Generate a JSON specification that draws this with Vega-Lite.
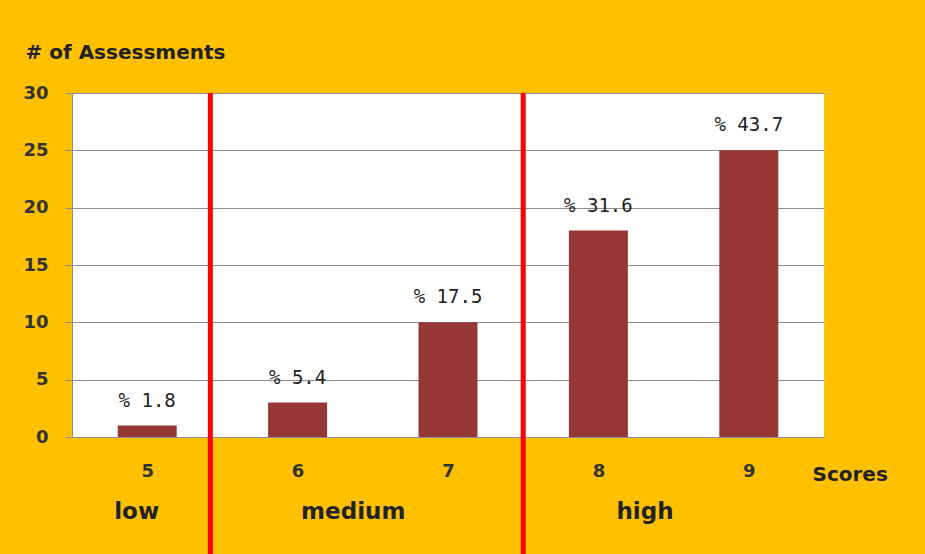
{
  "$schema": "https://vega.github.io/schema/vega-lite/v6.json",
  "width": 752,
  "height": 344,
  "autosize": {"type": "none"},
  "padding": {"left": 72, "top": 93, "right": 101, "bottom": 117},
  "background": "#FFC000",
  "config": {
    "view": {"fill": "white", "stroke": null},
    "font": "DejaVu Sans"
  },
  "datasets": {
    "scores": [
      {"score": 5, "count": 1, "label": "% 1.8"},
      {"score": 6, "count": 3, "label": "% 5.4"},
      {"score": 7, "count": 10, "label": "% 17.5"},
      {"score": 8, "count": 18, "label": "% 31.6"},
      {"score": 9, "count": 25, "label": "% 43.7"}
    ],
    "levels": [
      {"level": "low", "score": 4.93},
      {"level": "medium", "score": 6.37},
      {"level": "high", "score": 8.31}
    ],
    "cuts": [
      {"score": 5.42},
      {"score": 7.5}
    ]
  },
  "layer": [
    {
      "data": {"name": "scores"},
      "mark": {"type": "bar", "width": 59, "color": "#953735"},
      "encoding": {
        "x": {
          "field": "score",
          "type": "quantitative",
          "scale": {"domain": [4.5, 9.5], "nice": false, "zero": false, "padding": 0},
          "axis": {
            "values": [5, 6, 7, 8, 9],
            "format": "d",
            "grid": false,
            "ticks": false,
            "domainColor": "#8c8c8c",
            "labelFont": "DejaVu Sans",
            "labelFontWeight": "bold",
            "labelFontSize": 18,
            "labelColor": "#333333",
            "labelPadding": 25,
            "title": "Scores",
            "titleFont": "DejaVu Sans",
            "titleFontWeight": "bold",
            "titleFontSize": 20,
            "titleColor": "#222222",
            "titleAlign": "left",
            "titleBaseline": "middle",
            "titleX": 740,
            "titleY": 37
          }
        },
        "y": {
          "field": "count",
          "type": "quantitative",
          "scale": {"domain": [0, 30], "nice": false},
          "axis": {
            "values": [0, 5, 10, 15, 20, 25, 30],
            "grid": true,
            "gridColor": "#8c8c8c",
            "gridWidth": 1,
            "tickColor": "#8c8c8c",
            "tickSize": 7,
            "domainColor": "#8c8c8c",
            "labelFont": "DejaVu Sans",
            "labelFontWeight": "bold",
            "labelFontSize": 18,
            "labelColor": "#333333",
            "labelPadding": 17,
            "title": "# of Assessments",
            "titleFont": "DejaVu Sans",
            "titleFontWeight": "bold",
            "titleFontSize": 20,
            "titleColor": "#222222",
            "titleAngle": 0,
            "titleAlign": "left",
            "titleBaseline": "middle",
            "titleX": -47,
            "titleY": -41
          }
        }
      }
    },
    {
      "data": {"name": "scores"},
      "mark": {
        "type": "text",
        "font": "DejaVu Sans Mono",
        "fontSize": 19,
        "color": "#222222",
        "baseline": "alphabetic",
        "dy": -19
      },
      "encoding": {
        "x": {"field": "score", "type": "quantitative"},
        "y": {"field": "count", "type": "quantitative"},
        "text": {"field": "label"}
      }
    },
    {
      "data": {"name": "cuts"},
      "mark": {"type": "rule", "color": "#FF0000", "strokeWidth": 5},
      "encoding": {
        "x": {"field": "score", "type": "quantitative"},
        "y": {"datum": 30},
        "y2": {"datum": -10.3}
      }
    },
    {
      "data": {"name": "levels"},
      "mark": {
        "type": "text",
        "font": "DejaVu Sans",
        "fontWeight": "bold",
        "fontSize": 23,
        "color": "#222222",
        "baseline": "middle"
      },
      "encoding": {
        "x": {"field": "score", "type": "quantitative"},
        "y": {"datum": -6.5},
        "text": {"field": "level"}
      }
    }
  ]
}
